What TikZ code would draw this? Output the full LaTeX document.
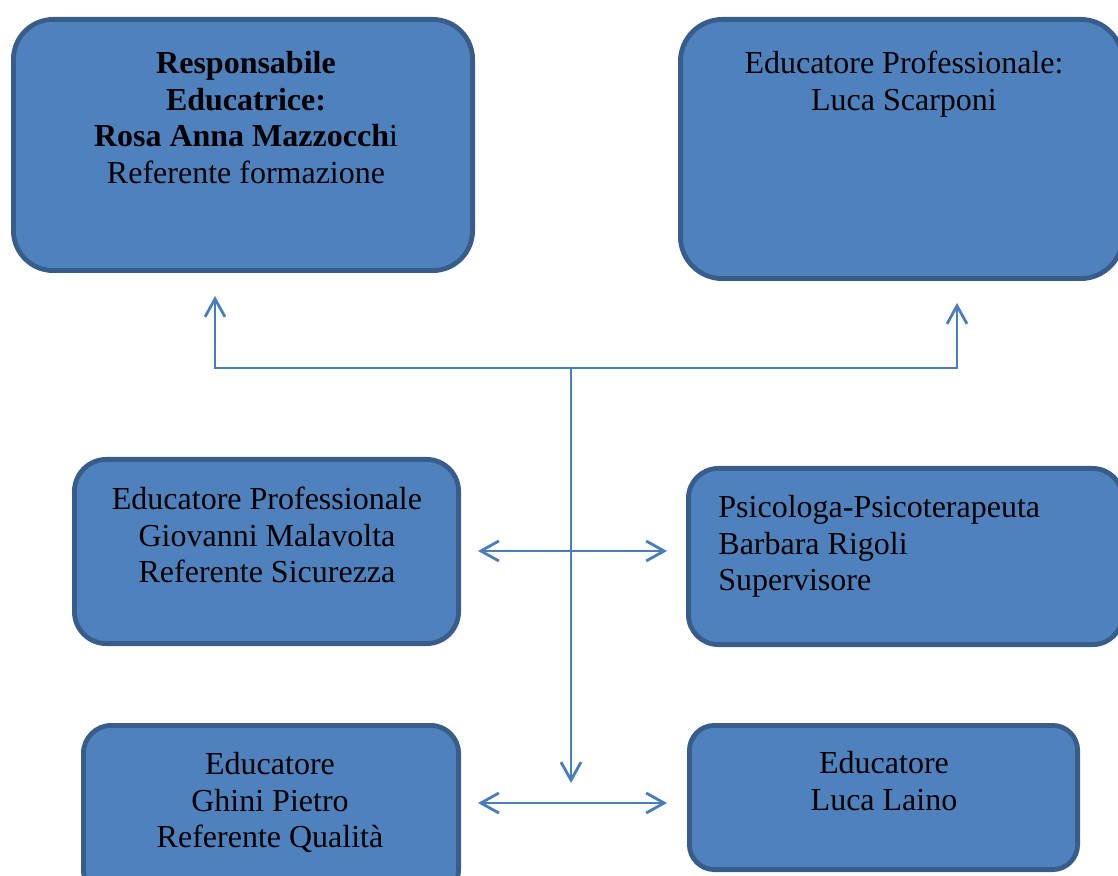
\documentclass[tikz,border=0pt]{standalone}
\usepackage{fontspec}
\setmainfont{Liberation Serif}
\usetikzlibrary{arrows.meta}
\definecolor{boxfill}{HTML}{4F81BD}
\definecolor{boxline}{HTML}{385D8A}
\definecolor{linkc}{HTML}{4A7EBB}
\tikzset{
  orgbox/.style={draw=boxline, fill=boxfill, line width=2.4pt, rounded corners=#1, inner sep=0pt},
  boxtext/.style={inner sep=0pt, font=\fontsize{16}{18.4}\selectfont, text=black},
  link/.style={draw=linkc, line width=1.4pt},
  barb/.style={-{Straight Barb[length=9pt,width=10pt]}},
  dbarb/.style={{Straight Barb[length=9pt,width=10pt]}-{Straight Barb[length=9pt,width=10pt]}}
}
\begin{document}
\begin{tikzpicture}[x=0.5pt,y=-0.5pt]
\useasboundingbox (0,0) rectangle (1118,876);
% boxes
\node[orgbox=20pt, minimum width=229.6pt, minimum height=125.6pt] (b1) at (243,145) {};
\node[orgbox=21pt, minimum width=221.1pt, minimum height=129.6pt] (b2) at (901.5,149) {};
\node[orgbox=16pt, minimum width=192.1pt, minimum height=92.1pt] (b3) at (266.5,551.5) {};
\node[orgbox=15pt, minimum width=217.1pt, minimum height=88.1pt] (b4) at (905.5,556.5) {};
\node[orgbox=14pt, minimum width=187.6pt, minimum height=86.1pt] (b5) at (271,811.5) {};
\node[orgbox=12.5pt, minimum width=194.1pt, minimum height=72.1pt] (b6) at (883.5,797.5) {};
% texts
\node[boxtext, anchor=north, align=center] (t1) at (246,47.2)
  {\strut\textbf{Responsabile}\\\strut\textbf{Educatrice:}\\\strut\textbf{Rosa Anna Mazzocch}i\\\strut Referente formazione};
\node[boxtext, anchor=north, align=center] (t2) at (904,47.2)
  {\strut Educatore Professionale:\\\strut Luca Scarponi};
\node[boxtext, anchor=north, align=center] (t3) at (267,483.2)
  {\strut Educatore Professionale\\\strut Giovanni Malavolta\\\strut Referente Sicurezza};
\node[boxtext, anchor=north west, align=left] (t4) at (718,491.2)
  {\strut Psicologa-Psicoterapeuta\\\strut Barbara Rigoli\\\strut Supervisore};
\node[boxtext, anchor=north, align=center] (t5) at (270,748.2)
  {\strut Educatore\\\strut Ghini Pietro\\\strut Referente Qualità};
\node[boxtext, anchor=north, align=center] (t6) at (884,747.2)
  {\strut Educatore\\\strut Luca Laino};
% connector points
\coordinate (hub) at (571,368);
\coordinate (tipL) at (215,296);
\coordinate (tipR) at (957,303);
\coordinate (tipD) at (571,783);
\coordinate (m1) at (478,551);
\coordinate (m2) at (667,551);
\coordinate (l1) at (478,803);
\coordinate (l2) at (667,803);
% connectors
\draw[link, barb] (hub) -| (tipL);
\draw[link, barb] (hub) -| (tipR);
\draw[link, barb] (hub) -- (tipD);
\draw[link, dbarb] (m1) -- (m2);
\draw[link, dbarb] (l1) -- (l2);
\end{tikzpicture}
\end{document}
